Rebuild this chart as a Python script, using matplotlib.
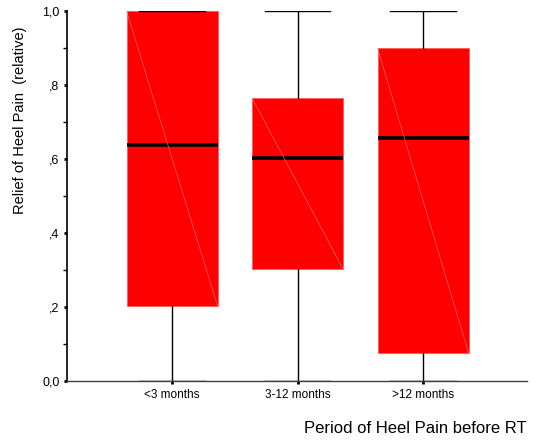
import numpy as np
import matplotlib
matplotlib.use("Agg")
import matplotlib.pyplot as plt
from matplotlib.ticker import FixedLocator, FixedFormatter

plt.rcParams['font.family'] = ['Liberation Sans', 'DejaVu Sans']

# box plot summary values
groups  = ['<3 months', '3-12 months', '>12 months']
whislo  = [0.0, 0.0, 0.0]
q1      = [0.203, 0.303, 0.076]
median  = [0.638, 0.603, 0.657]
q3      = [1.0, 0.765, 0.90]
whishi  = [1.0, 1.0, 1.0]

yticks      = [0.0, 0.2, 0.4, 0.6, 0.8, 1.0]
yticklabels = ['0,0', ',2', ',4', ',6', ',8', '1,0']

stats = []
for i in range(len(groups)):
    stats.append(dict(label=groups[i], whislo=whislo[i], q1=q1[i],
                      med=median[i], q3=q3[i], whishi=whishi[i], fliers=[]))

fig = plt.figure(figsize=(5.34, 4.45), dpi=100)
ax = fig.add_axes([0.1255, 0.144, 0.8615, 0.831])

pos = np.arange(1, len(groups) + 1)
ax.bxp(stats, positions=pos, widths=0.725, capwidths=0.52, patch_artist=True,
       showfliers=False,
       boxprops=dict(facecolor='#ff0000', edgecolor='#ff5a5a', linewidth=0.6),
       medianprops=dict(color='black', linewidth=2.6),
       whiskerprops=dict(color='black', linewidth=1.0),
       capprops=dict(color='black', linewidth=1.0))

# faint diagonal artefact seen inside each box
for i, p in enumerate(pos):
    ax.plot([p - 0.3625, p + 0.3625], [q3[i], q1[i]], color='#ff8080',
            linewidth=0.4, zorder=3)

ax.set_ylim(0, 1)
ax.set_xlim(0.163, 3.829)

ax.yaxis.set_major_locator(FixedLocator(yticks))
ax.yaxis.set_major_formatter(FixedFormatter(yticklabels))
ax.yaxis.set_minor_locator(FixedLocator([0.1, 0.3, 0.5, 0.7, 0.9]))
ax.tick_params(axis='y', which='major', length=2.5, width=2, labelsize=9, pad=3)
ax.tick_params(axis='y', which='minor', length=3, width=1)
ax.tick_params(axis='x', which='major', length=2, width=2, labelsize=8.5, pad=4)
ax.set_xticks(pos)
ax.set_xticklabels(groups)

for s in ['top', 'right']:
    ax.spines[s].set_visible(False)
ax.spines['left'].set_linewidth(1.2)
ax.spines['bottom'].set_linewidth(1.0)
ax.spines['bottom'].set_color('#404040')

fig.text(0.038, 0.73, 'Relief of Heel Pain  (relative)', fontsize=10.5,
         rotation=90, ha='center', va='center')
fig.text(0.987, 0.038, 'Period of Heel Pain before RT', fontsize=12,
         ha='right', va='center')

fig.savefig('out.png', dpi=100)
